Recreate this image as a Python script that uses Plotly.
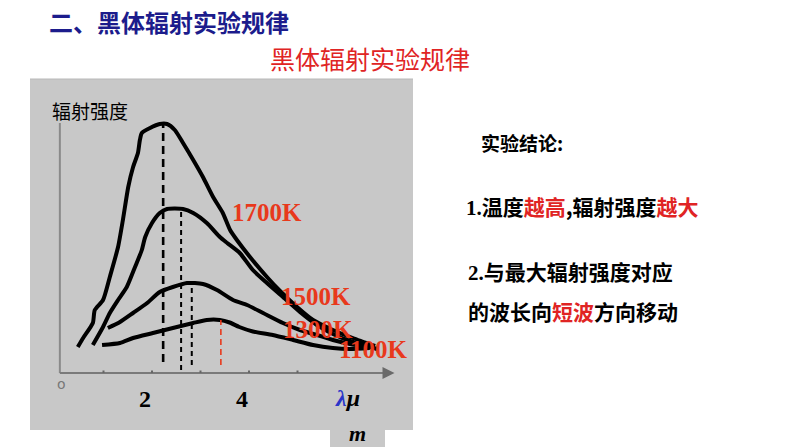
import plotly.graph_objects as go

W, H = 794, 447

# ---- data (wavelength in μm, radiation intensity in arbitrary units) ----
x_1700 = [0.47, 0.58, 0.78, 0.82, 0.99, 1.13, 1.30, 1.40, 1.51, 1.61, 1.71, 1.75, 1.79, 1.96, 2.16, 2.31,
          2.47, 2.64, 2.85, 3.05, 3.26, 3.46, 3.61, 3.75, 4.02, 4.37, 4.64, 4.99, 5.32, 5.73, 6.14, 6.60]
y_1700 = [1.04, 1.40, 2.00, 2.52, 2.92, 3.84, 5.04, 6.12, 7.44, 8.24, 8.80, 9.32, 9.60, 9.80, 9.96, 9.96,
          9.72, 9.20, 8.52, 7.84, 7.04, 6.40, 5.72, 5.32, 4.64, 3.84, 3.28, 2.64, 2.12, 1.72, 1.40, 1.08]

x_1500 = [0.78, 0.99, 1.13, 1.30, 1.48, 1.65, 1.79, 1.86, 2.00, 2.16, 2.31, 2.64, 2.85, 3.13, 3.40, 3.55,
          3.81, 4.08, 4.37, 4.70, 5.05, 5.40, 5.73, 6.08, 6.43, 6.64]
y_1500 = [1.12, 1.84, 2.40, 2.92, 3.44, 4.24, 4.92, 5.44, 6.00, 6.40, 6.56, 6.56, 6.40, 6.00, 5.44, 5.20,
          4.80, 4.12, 3.60, 3.04, 2.44, 1.92, 1.56, 1.28, 1.08, 0.96]

x_1300 = [1.09, 1.34, 1.61, 1.90, 2.16, 2.43, 2.72, 3.05, 3.34, 3.67, 3.96, 4.29, 4.70, 5.05, 5.40, 5.73,
          6.08, 6.43]
y_1300 = [1.80, 2.04, 2.40, 2.80, 3.24, 3.44, 3.60, 3.56, 3.32, 2.92, 2.72, 2.40, 2.00, 1.72, 1.52, 1.32,
          1.16, 1.04]

x_1100 = [0.97, 1.34, 1.61, 2.02, 2.43, 2.85, 3.13, 3.40, 3.60, 3.80, 4.08, 4.49, 4.91, 5.32, 5.73, 6.08, 6.49]
y_1100 = [1.12, 1.20, 1.40, 1.60, 1.80, 2.00, 2.12, 2.12, 2.02, 1.84, 1.66, 1.52, 1.32, 1.12, 1.00, 0.96, 1.00]

# peak wavelength markers (x, bottom y, top y)
peak_x = [2.23, 2.60, 2.82, 3.42]
peak_y0 = [0.44, 0.12, 0.32, 0.32]
peak_y1 = [9.96, 6.56, 3.56, 2.12]

temp_labels = ["1700K", "1500K", "1300K", "1100K"]
label_x = [4.37, 5.38, 5.42, 6.56]
label_y = [6.44, 3.08, 1.76, 0.96]

tick_vals = [2, 4]
tick_text = ["2", "4"]

RED = "#E8391C"
CJK = "Noto Sans CJK SC"
SERIF = "Liberation Serif"

fig = go.Figure()

# curves
for xs, ys in [(x_1700, y_1700), (x_1500, y_1500), (x_1300, y_1300), (x_1100, y_1100)]:
    fig.add_trace(go.Scatter(x=xs, y=ys, mode="lines",
                             line=dict(color="black", width=4, shape="spline", smoothing=0.6),
                             hoverinfo="skip", showlegend=False))

# dashed peak lines
dash_styles = [("black", 2.6, "8px,5px"), ("black", 2, "5px,4px"), ("black", 2, "5px,4px"), (RED, 1.6, "6px,4px")]
for (c, w, d), px_, y0, y1 in zip(dash_styles, peak_x, peak_y0, peak_y1):
    fig.add_trace(go.Scatter(x=[px_, px_], y=[y0, y1], mode="lines",
                             line=dict(color=c, width=w, dash=d),
                             hoverinfo="skip", showlegend=False))

# axes drawn as shapes
fig.add_shape(type="line", xref="x", yref="y", x0=0.1, x1=0.1, y0=0, y1=10.0,
              line=dict(color="#8a8a8a", width=2))
fig.add_shape(type="line", xref="x", yref="y", x0=0.1, x1=6.85, y0=0, y1=0,
              line=dict(color="#7a7a7a", width=2))
fig.add_annotation(x=7.0, y=0, ax=6.75, ay=0, xref="x", yref="y", axref="x", ayref="y",
                   showarrow=True, arrowhead=2, arrowsize=1.2, arrowwidth=2, arrowcolor="#6a6a6a", text="")
for t in [1, 2, 3, 4, 5]:
    fig.add_shape(type="line", xref="x", yref="y", x0=t, x1=t, y0=0, y1=0.1,
                  line=dict(color="#666", width=2))

# gray background panels (paper coordinates)
def px_x(v): return v / W
def px_y(v): return 1 - v / H

fig.add_shape(type="rect", xref="paper", yref="paper", layer="below",
              x0=px_x(30), x1=px_x(413), y0=px_y(430), y1=px_y(79),
              fillcolor="#c8c8c8", line=dict(width=0))
fig.add_shape(type="rect", xref="paper", yref="paper", layer="below",
              x0=px_x(330), x1=px_x(385), y0=0, y1=px_y(430),
              fillcolor="#c8c8c8", line=dict(width=0))
fig.add_shape(type="line", xref="paper", yref="paper", layer="below",
              x0=px_x(30), x1=px_x(413), y0=px_y(79), y1=px_y(79),
              line=dict(color="#b8b8b8", width=1))

# temperature labels
for t, lx, ly in zip(temp_labels, label_x, label_y):
    fig.add_annotation(x=lx, y=ly, xref="x", yref="y", text="<b>%s</b>" % t, showarrow=False,
                       font=dict(family=SERIF, size=25, color=RED))

# tick labels
for v, tt in zip(tick_vals, tick_text):
    fig.add_annotation(x=v - 0.14, y=-1.02, xref="x", yref="y", text="<b>%s</b>" % tt, showarrow=False,
                       font=dict(family=SERIF, size=24, color="black"))
fig.add_annotation(x=0.14, y=-0.44, xref="x", yref="y", text="o", showarrow=False,
                   font=dict(family="DejaVu Sans", size=14, color="#777"))
fig.add_annotation(x=6.04, y=-1.0, xref="x", yref="y",
                   text="<b><i><span style='color:#2a35c8'>λ</span>μ</i></b>", showarrow=False,
                   font=dict(family=SERIF, size=24, color="black"))
fig.add_annotation(x=px_x(357), y=0, xref="paper", yref="paper", text="<b><i>m</i></b>", showarrow=False,
                   xanchor="center", yanchor="bottom", borderpad=0,
                   font=dict(family=SERIF, size=22, color="black"))
fig.add_annotation(x=0.72, y=10.52, xref="x", yref="y", text="辐射强度", showarrow=False,
                   font=dict(family=CJK, size=19, color="black"))

# slide texts
def ptext(x, y, text, size, color="black", family=CJK, anchor="left"):
    fig.add_annotation(x=px_x(x), y=px_y(y), xref="paper", yref="paper", text=text, showarrow=False,
                       xanchor=anchor, yanchor="middle", font=dict(family=family, size=size, color=color))

ptext(47, 22, "<b>二、黑体辐射实验规律</b>", 24, color="#1c1c8c")
ptext(370, 58, "黑体辐射实验规律", 25, color="#e02424", anchor="center")
ptext(479, 143, "<b>实验结论:</b>", 19)
ptext(464, 206, "<b><span style='font-family:Liberation Serif'>1.</span>温度<span style='color:#e02424'>越高</span>,辐射强度<span style='color:#e02424'>越大</span></b>", 21)
ptext(466, 271, "<b><span style='font-family:Liberation Serif'>2.</span>与最大辐射强度对应</b>", 21)
ptext(466, 311, "<b>的波长向<span style='color:#e02424'>短波</span>方向移动</b>", 21)

fig.update_layout(
    width=W, height=H, margin=dict(l=0, r=0, t=0, b=0),
    paper_bgcolor="white", plot_bgcolor="rgba(0,0,0,0)",
    xaxis=dict(range=[-55 / 48.5, (W - 55) / 48.5], visible=False, fixedrange=True),
    yaxis=dict(range=[(373 - H) / 25, 373 / 25], visible=False, fixedrange=True),
)

fig.write_html("out.html")
